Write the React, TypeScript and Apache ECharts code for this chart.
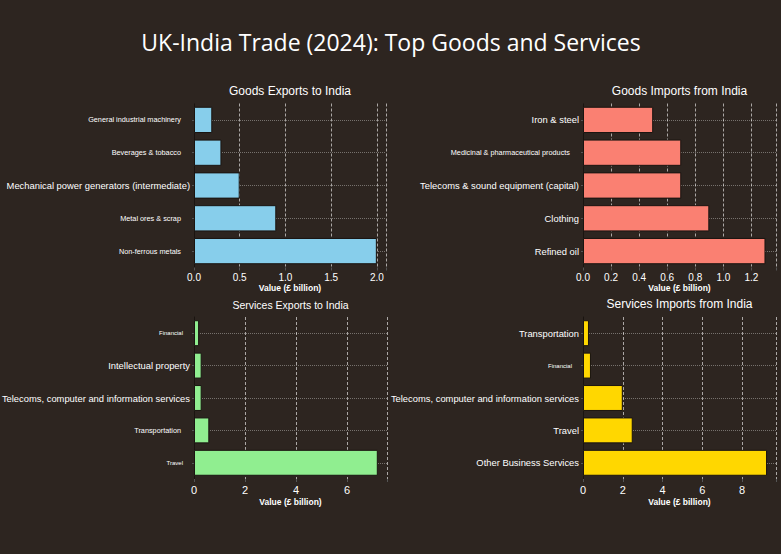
import React, { useEffect, useRef } from "react";
import * as echarts from "echarts";

const goodsExportCategories = [
  "General industrial machinery",
  "Beverages & tobacco",
  "Mechanical power generators (intermediate)",
  "Metal ores & scrap",
  "Non-ferrous metals",
];
const goodsExportValues = [0.2, 0.3, 0.5, 0.9, 2.0];

const goodsImportCategories = [
  "Iron & steel",
  "Medicinal & pharmaceutical products",
  "Telecoms & sound equipment (capital)",
  "Clothing",
  "Refined oil",
];
const goodsImportValues = [0.5, 0.7, 0.7, 0.9, 1.3];

const servicesExportCategories = [
  "Financial",
  "Intellectual property",
  "Telecoms, computer and information services",
  "Transportation",
  "Travel",
];
const servicesExportValues = [0.2, 0.3, 0.3, 0.6, 7.2];

const servicesImportCategories = [
  "Transportation",
  "Financial",
  "Telecoms, computer and information services",
  "Travel",
  "Other Business Services",
];
const servicesImportValues = [0.3, 0.4, 2.0, 2.5, 9.25];

const mainTitle = "UK-India Trade (2024): Top Goods and Services";
const axisTitle = "Value (£ billion)";

export default function App() {
  const ref = useRef<HTMLDivElement>(null);

  useEffect(() => {
    if (!ref.current) return;
    const chart = echarts.init(ref.current, undefined, { renderer: "svg" });
    const font = "'Liberation Sans', Arial, sans-serif";

    const panels = [
      {
        title: "Goods Exports to India",
        titleSize: 12,
        cats: goodsExportCategories,
        vals: goodsExportValues,
        color: "#87ceeb",
        grid: { left: 194, top: 103.5, width: 192, height: 164 },
        max: 2.1,
        interval: 0.5,
        dec: 1,
        sizes: ["s", "s", "b", "s", "s"],
        tickSize: 10,
        nameGap: 14,
      },
      {
        title: "Goods Imports from India",
        titleSize: 12,
        cats: goodsImportCategories,
        vals: goodsImportValues,
        color: "#fa8072",
        grid: { left: 583, top: 103.5, width: 193, height: 164 },
        max: 1.375,
        interval: 0.2,
        dec: 1,
        sizes: ["b", "s", "b", "b", "b"],
        tickSize: 10,
        nameGap: 14,
      },
      {
        title: "Services Exports to India",
        titleSize: 10.5,
        cats: servicesExportCategories,
        vals: servicesExportValues,
        color: "#90ee90",
        grid: { left: 194, top: 317, width: 193, height: 162 },
        max: 7.56,
        interval: 2,
        dec: 0,
        sizes: ["t", "b", "b", "s", "t"],
        tickSize: 11,
        nameGap: 18,
      },
      {
        title: "Services Imports from India",
        titleSize: 12,
        cats: servicesImportCategories,
        vals: servicesImportValues,
        color: "#ffd700",
        grid: { left: 583, top: 317, width: 193, height: 162 },
        max: 9.7,
        interval: 2,
        dec: 0,
        sizes: ["b", "t", "b", "b", "b"],
        tickSize: 11,
        nameGap: 18,
      },
    ];

    const titleY = [91, 91, 305, 304];

    const option: any = {
      animation: false,
      backgroundColor: "#2d2520",
      grid: panels.map((p) => ({ ...p.grid, containLabel: false, outerBoundsMode: "none" })),
      xAxis: panels.map((p, i) => ({
        type: "value",
        gridIndex: i,
        min: 0,
        max: p.max,
        interval: p.interval,
        name: axisTitle,
        nameLocation: "middle",
        nameGap: p.nameGap,
        nameTextStyle: { color: "#ffffff", fontSize: 8.5, fontWeight: "bold", fontFamily: font },
        axisLine: { show: false },
        axisTick: { show: true, length: 3, lineStyle: { color: "#555" } },
        axisLabel: {
          color: "#ffffff",
          fontSize: p.tickSize,
          fontFamily: font,
          margin: 5,
          formatter: (v: number) => {
            const k = v / p.interval;
            return Math.abs(k - Math.round(k)) < 1e-6 ? v.toFixed(p.dec) : "";
          },
        },
        splitLine: {
          show: true,
          lineStyle: { color: "rgba(255,255,255,0.6)", width: 1, type: [3, 2] },
        },
      })),
      yAxis: panels.map((p, i) => ({
        type: "category",
        gridIndex: i,
        data: p.cats,
        inverse: true,
        axisLine: { show: true, lineStyle: { color: "#1a1410" } },
        axisTick: { show: true, alignWithLabel: true, length: 2, lineStyle: { color: "#555" } },
        splitLine: {
          show: true,
          alignWithLabel: true,
          lineStyle: { color: "rgba(255,255,255,0.35)", width: 1, type: "dotted" },
        },
        axisLabel: {
          color: "#ffffff",
          fontFamily: font,
          margin: 4,
          formatter: (v: string, idx: number) => `{${p.sizes[idx]}|${v}}`,
          rich: {
            b: { fontSize: 9.4, color: "#ffffff", fontFamily: font },
            s: { fontSize: 7.3, color: "#ffffff", fontFamily: font, padding: [0, 9, 0, 0] },
            t: { fontSize: 6, color: "#ffffff", fontFamily: font, padding: [0, 7, 0, 0] },
          },
        },
      })),
      series: panels.map((p, i) => ({
        type: "bar",
        xAxisIndex: i,
        yAxisIndex: i,
        data: p.vals,
        barCategoryGap: "20%",
        itemStyle: { color: p.color, borderColor: "#1a1410", borderWidth: 1 },
      })),
      graphic: [
        {
          type: "text",
          x: 391,
          y: 42,
          style: {
            text: mainTitle,
            fill: "#ffffff",
            font: "23px 'Open Sans', sans-serif",
            textAlign: "center",
            textVerticalAlign: "middle",
          },
        },
        ...panels.map((p, i) => ({
          type: "text",
          x: p.grid.left + p.grid.width / 2,
          y: titleY[i],
          style: {
            text: p.title,
            fill: "#ffffff",
            font: `${p.titleSize}px ${font}`,
            textAlign: "center",
            textVerticalAlign: "middle",
          },
        })),
      ],
    };

    chart.setOption(option);
    return () => chart.dispose();
  }, []);

  return (
    <div
      ref={ref}
      style={{ position: "absolute", left: 0, top: 0, width: 781, height: 554 }}
    />
  );
}
